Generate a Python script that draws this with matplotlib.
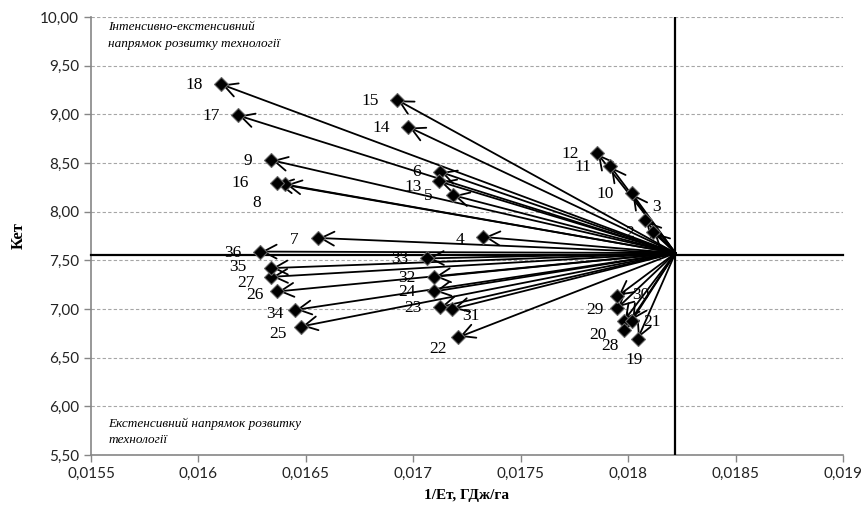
import matplotlib.pyplot as plt
from matplotlib.patches import FancyArrowPatch
from matplotlib.ticker import FuncFormatter, MultipleLocator

# point numbers and coordinates (1/Ет, Кет)
labels = ["2", "3", "4", "5", "6", "7", "8", "9", "10", "11", "12", "13", "14", "15",
          "16", "17", "18", "19", "20", "21", "22", "23", "24", "25", "26", "27", "28",
          "29", "30", "31", "32", "33", "34", "35", "36"]
x_vals = [0.018117, 0.018078, 0.017326, 0.017183, 0.017124, 0.016555, 0.016403,
          0.016338, 0.018017, 0.017916, 0.017856, 0.017121, 0.016977, 0.016923,
          0.016364, 0.016183, 0.016104, 0.018044, 0.017981, 0.018017, 0.017210,
          0.017124, 0.017096, 0.016477, 0.016367, 0.016338, 0.017981, 0.017950,
          0.017950, 0.017182, 0.017096, 0.017065, 0.016449, 0.016338, 0.016287]
y_vals = [7.79, 7.91, 7.74, 8.17, 8.41, 7.73, 8.28, 8.53, 8.19, 8.47, 8.60, 8.31,
          8.87, 9.15, 8.29, 8.99, 9.31, 6.69, 6.88, 6.88, 6.71, 7.02, 7.18, 6.82,
          7.18, 7.33, 6.78, 7.01, 7.13, 7.00, 7.33, 7.52, 6.99, 7.42, 7.59]

# reference point (base technology)
x_base = 0.01822
y_base = 7.575
y_hline = 7.555

x_ticks = [0.0155, 0.016, 0.0165, 0.017, 0.0175, 0.018, 0.0185, 0.019]
x_tick_labels = ["0,0155", "0,016", "0,0165", "0,017", "0,0175", "0,018", "0,0185", "0,019"]

# label offsets in pixels (dx, dy down-positive)
offsets = {"2": (-24, 1), "3": (12, -13), "8": (-28, 19), "13": (-26, 6), "16": (-36, 0),
           "27": (-25, 6), "26": (-22, 4), "31": (18, 7), "34": (-20, 4), "25": (-23, 7),
           "22": (-20, 12), "30": (23, -1), "29": (-22, 2), "20": (-26, 14),
           "28": (-14, 16), "21": (20, 1), "19": (-3, 21), "35": (-33, -1),
           "9": (-23, 1), "6": (-23, 0), "5": (-24, 1), "7": (-23, 2), "4": (-23, 3)}

fig = plt.figure(figsize=(8.65, 5.11), dpi=100)
ax = fig.add_axes([91 / 865, 1 - 455 / 511, 752 / 865, 438 / 511])

ax.set_xlim(0.0155, 0.019)
ax.set_ylim(5.5, 10.0)

ax.yaxis.set_major_locator(MultipleLocator(0.5))
ax.grid(axis="y", color="#a6a6a6", linestyle=(0, (3, 2)), linewidth=0.8)
ax.set_axisbelow(True)
ax.set_xticks(x_ticks)
ax.set_xticklabels(x_tick_labels)
ax.yaxis.set_major_formatter(FuncFormatter(lambda v, p: f"{v:.2f}".replace(".", ",")))

for s in ["top", "right"]:
    ax.spines[s].set_visible(False)
for s in ["left", "bottom"]:
    ax.spines[s].set_color("#868686")
    ax.spines[s].set_linewidth(1.2)
ax.tick_params(axis="both", color="#868686", length=5, width=1,
               labelsize=11, labelcolor="#222222")
for t in ax.get_xticklabels() + ax.get_yticklabels():
    t.set_fontfamily("Lato")

# quadrant lines
ax.axhline(y_hline, color="black", linewidth=1.6, zorder=3, clip_on=False)
ax.axvline(x_base, color="black", linewidth=1.6, zorder=3)

# point labels (under the arrows)
for lab, xv, yv in zip(labels, x_vals, y_vals):
    dx, dy = offsets.get(lab, (-27, 1))
    ax.annotate(lab, (xv, yv), xytext=(dx * 0.72, -dy * 0.72), textcoords="offset points",
                ha="center", va="center", fontsize=12.5, family="Liberation Serif", zorder=2)

# arrows from base point
for xv, yv in zip(x_vals, y_vals):
    arr = FancyArrowPatch((x_base, y_base), (xv, yv),
                          arrowstyle="->,head_length=0.95,head_width=0.5",
                          mutation_scale=10, shrinkA=0, shrinkB=1,
                          color="black", linewidth=1.3, zorder=4)
    ax.add_patch(arr)

ax.plot(x_vals, y_vals, linestyle="none", marker="D", markersize=7,
        color="black", markeredgecolor="#666666", markeredgewidth=0.8, zorder=5)

ax.text(0.023, 0.99, "Інтенсивно-екстенсивний\nнапрямок розвитку технології",
        transform=ax.transAxes, ha="left", va="top", fontsize=9.5, style="italic",
        family="Liberation Serif", linespacing=1.5, zorder=6)
ax.text(0.023, 0.02, "Екстенсивний напрямок розвитку\nтехнології",
        transform=ax.transAxes, ha="left", va="bottom", fontsize=9.5, style="italic",
        family="Liberation Serif", linespacing=1.5, zorder=6)

ax.set_xlabel("1/Ет, ГДж/га", fontsize=11, fontweight="bold", family="Liberation Serif",
              labelpad=6)
ax.set_ylabel("Кет", fontsize=12, fontweight="bold", family="Liberation Serif", labelpad=10)

fig.savefig("out.png", dpi=100)
